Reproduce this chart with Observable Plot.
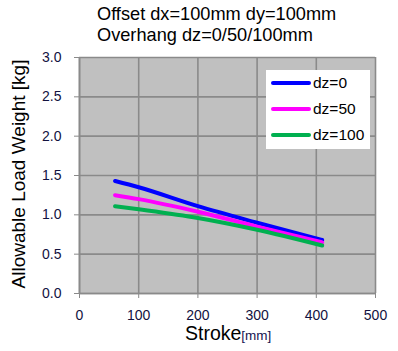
<!DOCTYPE html>
<html><head><meta charset="utf-8">
<script src="https://cdn.jsdelivr.net/npm/d3@7"></script>
<script src="https://cdn.jsdelivr.net/npm/@observablehq/plot@0.6"></script>
<style>
body{margin:0;background:#fff;font-family:"Liberation Sans",Arial,sans-serif;}
#wrap{position:relative;width:398px;height:351px;}
#title{position:absolute;left:97px;top:4px;font-size:18.2px;line-height:21px;color:#000;white-space:nowrap;}
#legend{position:absolute;left:266px;top:70px;width:104px;height:79px;background:#fff;}
.row{position:absolute;left:5px;height:20px;display:flex;align-items:center;font-size:15.5px;color:#000;}
.sw{width:40px;height:4px;border-radius:2px;margin-right:2px;}
#ylab{position:absolute;left:19px;top:174px;transform:translate(-50%,-50%) rotate(-90deg);font-size:19px;white-space:nowrap;}
#xlab{position:absolute;left:185px;top:322px;font-size:19.5px;white-space:nowrap;}
#xlab span{font-size:13.5px;color:#141450;}
</style></head>
<body><div id="wrap"></div>
<script>
const strokes = [60, 100, 200, 300, 410];
const dz0 = [1.43, 1.35, 1.11, 0.90, 0.68];
const dz50 = [1.25, 1.20, 1.04, 0.85, 0.65];
const dz100 = [1.11, 1.07, 0.96, 0.81, 0.61];
const seriesNames = ["dz=0", "dz=50", "dz=100"];
const seriesColors = ["#0000ff", "#ff00ff", "#00b050"];
const xTicks = [0, 100, 200, 300, 400, 500];
const yTicks = [0, 0.5, 1.0, 1.5, 2.0, 2.5, 3.0];

const rows = [];
[dz0, dz50, dz100].forEach((arr, i) => arr.forEach((v, j) => rows.push({s: seriesNames[i], x: strokes[j], y: v})));

const chart = Plot.plot({
  width: 398, height: 351,
  marginLeft: 79, marginRight: 23, marginTop: 57, marginBottom: 58,
  style: {fontFamily: '"Liberation Sans", Arial, sans-serif', fontSize: "14px", color: "#12123f", background: "transparent"},
  x: {domain: [0, 500], ticks: xTicks, label: null},
  y: {domain: [0, 3], ticks: yTicks, tickFormat: d3.format(".1f"), label: null},
  color: {domain: seriesNames, range: seriesColors},
  marks: [
    Plot.frame({fill: "#c0c0c0", stroke: null}),
    Plot.gridX(xTicks, {stroke: "#8a8a8a", strokeOpacity: 1, strokeWidth: 1.6}),
    Plot.gridY(yTicks, {stroke: "#8a8a8a", strokeOpacity: 1, strokeWidth: 1.6}),
    Plot.ruleX([0], {stroke: "#8a8a8a", strokeWidth: 1.6}),
    Plot.ruleY([0], {stroke: "#8a8a8a", strokeWidth: 1.6}),
    Plot.axisX(xTicks, {tickSize: 5, tickPadding: 12, stroke: "#8a8a8a", fill: "#12123f", fontSize: 14}),
    Plot.axisY(yTicks, {tickSize: 5, tickPadding: 13, stroke: "#8a8a8a", fill: "#12123f", tickFormat: d3.format(".1f"), fontSize: 14}),
    Plot.line(rows, {x: "x", y: "y", stroke: "s", z: "s", strokeWidth: 4, curve: "monotone-x"})
  ]
});
const wrap = document.getElementById("wrap");
wrap.appendChild(chart);

const t = document.createElement("div");
t.id = "title";
t.innerHTML = "Offset dx=100mm dy=100mm<br>Overhang dz=0/50/100mm";
wrap.appendChild(t);

const yl = document.createElement("div");
yl.id = "ylab"; yl.textContent = "Allowable Load Weight [kg]";
wrap.appendChild(yl);

const xl = document.createElement("div");
xl.id = "xlab"; xl.innerHTML = "Stroke<span>[mm]</span>";
wrap.appendChild(xl);

const lg = document.createElement("div");
lg.id = "legend";
seriesNames.forEach((n, i) => {
  const r = document.createElement("div");
  r.className = "row";
  r.style.top = (3 + i * 26) + "px";
  r.innerHTML = `<div class="sw" style="background:${seriesColors[i]}"></div>${n}`;
  lg.appendChild(r);
});
wrap.appendChild(lg);
</script></body></html>
